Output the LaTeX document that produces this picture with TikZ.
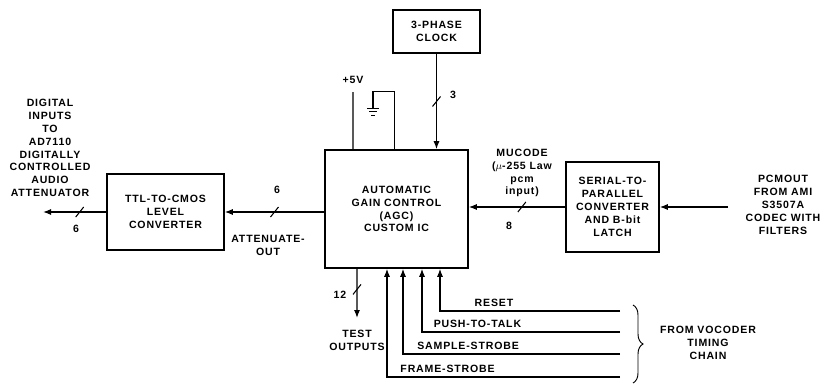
\documentclass[tikz,border=0pt]{standalone}
\usepackage{fontspec}
\setmainfont{Liberation Sans}[LetterSpace=8]
\usepackage{tikz}
\usetikzlibrary{positioning,arrows.meta,decorations.pathreplacing}

\begin{document}
\begin{tikzpicture}[
    x=0.03cm, y=-0.03cm,
    font=\fontsize{9}{11}\selectfont\bfseries,
    blk/.style={draw, line width=1.3pt, align=center, inner sep=2pt},
    fl/.style={-{Latex[length=2.4mm, width=1.8mm]}, line width=1pt},
    ln/.style={line width=1pt},
    lb/.style={align=center, inner sep=1pt},
    bus/.pic={\draw[arrows=-, line width=0.9pt] (-4,5) -- (4,-5);},
]
    \useasboundingbox (0,0) rectangle (821,384);
    \node[blk, minimum width=3.51cm, minimum height=2.28cm] (ttl) at (165.5,212) {TTL-TO-CMOS\\LEVEL\\CONVERTER};
    \node[blk, minimum width=4.29cm, minimum height=3.54cm] (agc) at (396.5,209) {AUTOMATIC\\GAIN CONTROL\\(AGC)\\CUSTOM IC};
    \node[blk, minimum width=2.61cm, minimum height=1.29cm] (clk) at (436.5,31.5) {3-PHASE\\CLOCK};
    \node[blk, minimum width=2.79cm, minimum height=2.7cm] (s2p) at (612.5,207) {SERIAL-TO-\\PARALLEL\\CONVERTER\\AND B-bit\\LATCH};

    % outputs to the left
    \node[lb] (dig) at (50,148) {DIGITAL\\INPUTS\\TO\\AD7110\\DIGITALLY\\CONTROLLED\\AUDIO\\ATTENUATOR};
    \coordinate (dout) at (43,212);
    \draw[fl] (ttl.west) -- pic[pos=0.42]{bus} (dout);
    \node[lb] (n6a) at (76,229) {6};
    \draw[fl] (agc.west |- ttl) -- pic[pos=0.5]{bus} (ttl.east);
    \node[lb] (n6b) at (277,190) {6};
    \node[lb] (att) at (268,245) {ATTENUATE-\\OUT};

    % clock, supply, ground
    \draw[fl] (clk.south) -- pic{bus} (clk.south |- agc.north);
    \node[lb] (n3) at (453,95) {3};
    \coordinate (vcc) at (353,92);
    \draw[ln] ([xshift=-1.305cm]agc.north) -- (vcc);
    \node[lb] (v5) at (353,80) {+5V};
    \coordinate (gnd) at (373,108);
    \draw[ln] ([xshift=-0.05cm]agc.north) -- ++(0,-58) -| (gnd);
    \draw[line width=0.8pt] (gnd) ++(-6,0) -- ++(12,0) (gnd) ++(-4,3.5) -- ++(8,0) (gnd) ++(-2,7) -- ++(4,0);

    % input side
    \draw[fl] (s2p.west) -- pic[pos=0.45]{bus} (s2p.west -| agc.east);
    \node[lb] (mu) at (522,173) {MUCODE\\($\mu$-255 Law\\pcm\\input)};
    \node[lb] (n8) at (509,226) {8};
    \coordinate (pin) at (728,207);
    \draw[fl] (pin) -- (s2p.east);
    \node[lb] (pcm) at (783,205) {PCMOUT\\FROM AMI\\S3507A\\CODEC WITH\\FILTERS};

    % test outputs
    \coordinate (tout) at (357,318);
    \draw[fl] ([xshift=-1.185cm]agc.south) -- pic[pos=0.42]{bus} (tout);
    \node[lb] (n12) at (340,295) {12};
    \node[lb] (tst) at (357,340) {TEST\\OUTPUTS};

    % timing chain
    \coordinate (rst) at (620,311);
    \coordinate (ptt) at (620,332);
    \coordinate (smp) at (620,354);
    \coordinate (frm) at (620,377);
    \draw[fl] (rst) -| node[lb, pos=0.35, above=2pt] {RESET} ([xshift=1.305cm]agc.south);
    \draw[fl] (ptt) -| node[lb, pos=0.36, above=2pt] {PUSH-TO-TALK} ([xshift=0.765cm]agc.south);
    \draw[fl] (smp) -| node[lb, pos=0.35, above=2pt] {SAMPLE-STROBE} ([xshift=0.195cm]agc.south);
    \draw[fl] (frm) -| node[lb, pos=0.37, above=2pt] {FRAME-STROBE} ([xshift=-0.285cm]agc.south);
    \draw[line width=0.8pt, decorate, decoration={brace, amplitude=0.3cm}] (633,305) -- (633,383);
    \node[lb] (voc) at (708,343) {FROM VOCODER\\TIMING\\CHAIN};
\end{tikzpicture}
\end{document}
